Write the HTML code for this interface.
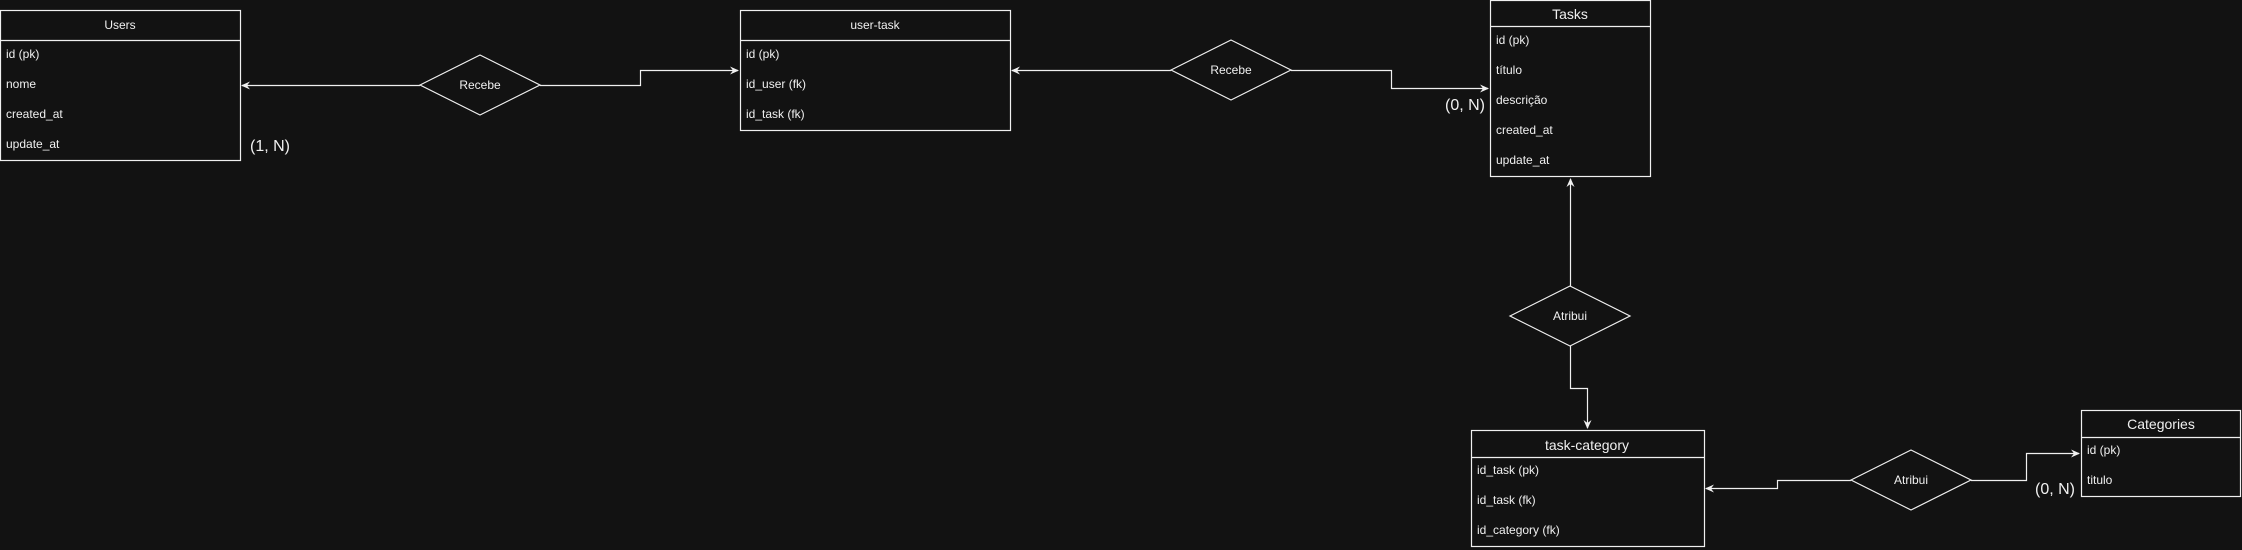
<!DOCTYPE html>
<html><head><meta charset="utf-8"><style>
html,body{margin:0;padding:0;background:#121212;}
svg{display:block;}
text{font-family:"Liberation Sans",Arial,sans-serif;fill:#f0f0f0;}
.r{font-size:12px;}
.h{font-size:12px;}
.H{font-size:14px;}
.c{font-size:16px;}
</style></head><body>
<svg width="2242" height="550" viewBox="0 0 2242 550" xmlns="http://www.w3.org/2000/svg">
<defs><marker id="a" markerWidth="10" markerHeight="10" refX="8" refY="5" orient="auto" markerUnits="userSpaceOnUse"><path d="M0,1 L9,5 L0,9 L3,5 Z" fill="#f0f0f0"/></marker></defs>
<g fill="none" stroke="#f0f0f0" stroke-width="1.2">
<!-- Users -->
<rect x="0.5" y="10.5" width="240" height="150"/><line x1="0" y1="40.5" x2="240" y2="40.5"/>
<!-- user-task -->
<rect x="740.5" y="10.5" width="270" height="120"/><line x1="740" y1="40.5" x2="1010" y2="40.5"/>
<!-- Tasks -->
<rect x="1490.5" y="0.5" width="160" height="176"/><line x1="1490" y1="26.5" x2="1650" y2="26.5"/>
<!-- task-category -->
<rect x="1471.5" y="430.5" width="233" height="116"/><line x1="1471" y1="457.5" x2="1704" y2="457.5"/>
<!-- Categories -->
<rect x="2081.5" y="410.5" width="159" height="86"/><line x1="2081" y1="437.5" x2="2240" y2="437.5"/>
<!-- diamonds -->
<polygon points="420,85 480,55 540,85 480,115"/>
<polygon points="1171,70 1231,40 1291,70 1231,100"/>
<polygon points="1510,316 1570,286 1630,316 1570,346"/>
<polygon points="1851,480 1911,450 1971,480 1911,510"/>
<!-- connectors -->
<polyline points="420,85.5 242,85.5" marker-end="url(#a)"/>
<polyline points="540,85.5 640.5,85.5 640.5,70.5 738,70.5" marker-end="url(#a)"/>
<polyline points="1171,70.5 1012,70.5" marker-end="url(#a)"/>
<polyline points="1291,70.5 1391.5,70.5 1391.5,88.5 1488,88.5" marker-end="url(#a)"/>
<polyline points="1570.5,286 1570.5,179" marker-end="url(#a)"/>
<polyline points="1570.5,346 1570.5,388.5 1587.5,388.5 1587.5,428" marker-end="url(#a)"/>
<polyline points="1851,480.5 1777.5,480.5 1777.5,488.5 1706,488.5" marker-end="url(#a)"/>
<polyline points="1971,480.5 2026.5,480.5 2026.5,453.5 2079,453.5" marker-end="url(#a)"/>
</g>
<text class="h" x="120" y="29" text-anchor="middle">Users</text>
<text class="r" x="6" y="58">id (pk)</text>
<text class="r" x="6" y="88">nome</text>
<text class="r" x="6" y="118">created_at</text>
<text class="r" x="6" y="148">update_at</text>
<text class="c" x="250" y="151">(1, N)</text>
<text class="h" x="875" y="29" text-anchor="middle">user-task</text>
<text class="r" x="746" y="58">id (pk)</text>
<text class="r" x="746" y="88">id_user (fk)</text>
<text class="r" x="746" y="118">id_task (fk)</text>
<text class="r" x="480" y="89" text-anchor="middle">Recebe</text>
<text class="r" x="1231" y="74" text-anchor="middle">Recebe</text>
<text class="c" x="1445" y="110">(0, N)</text>
<text class="H" x="1570" y="19" text-anchor="middle">Tasks</text>
<text class="r" x="1496" y="44">id (pk)</text>
<text class="r" x="1496" y="74">título</text>
<text class="r" x="1496" y="104">descrição</text>
<text class="r" x="1496" y="134">created_at</text>
<text class="r" x="1496" y="164">update_at</text>
<text class="r" x="1570" y="320" text-anchor="middle">Atribui</text>
<text class="H" x="1587" y="450" text-anchor="middle">task-category</text>
<text class="r" x="1477" y="474">id_task (pk)</text>
<text class="r" x="1477" y="504">id_task (fk)</text>
<text class="r" x="1477" y="534">id_category (fk)</text>
<text class="r" x="1911" y="484" text-anchor="middle">Atribui</text>
<text class="H" x="2161" y="429" text-anchor="middle">Categories</text>
<text class="r" x="2087" y="454">id (pk)</text>
<text class="r" x="2087" y="484">titulo</text>
<text class="c" x="2035" y="494">(0, N)</text>
</svg>
</body></html>
